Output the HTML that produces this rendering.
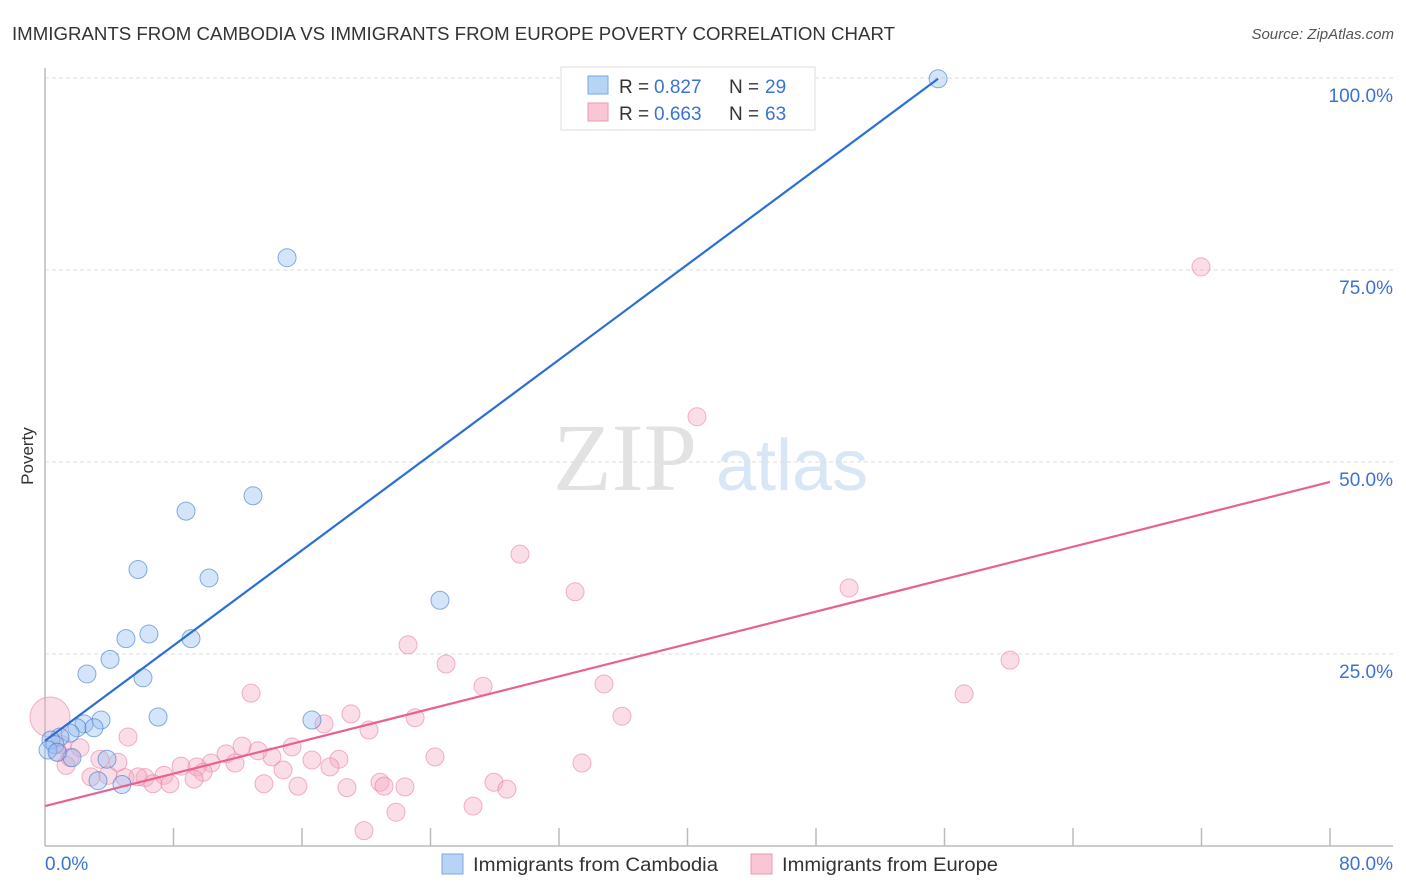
<!DOCTYPE html>
<html><head><meta charset="utf-8"><style>
body{margin:0;background:#fff;font-family:"Liberation Sans",sans-serif}
svg{display:block}
</style></head><body>
<svg id="chart" width="1406" height="892" xmlns="http://www.w3.org/2000/svg">
<text x="12" y="40" font-size="18" fill="#333" textLength="883" lengthAdjust="spacingAndGlyphs">IMMIGRANTS FROM CAMBODIA VS IMMIGRANTS FROM EUROPE POVERTY CORRELATION CHART</text>
<text x="1394" y="39" font-size="15" fill="#555" font-style="italic" text-anchor="end">Source: ZipAtlas.com</text>
<g>
<text x="553" y="490" font-size="96" font-family="Liberation Serif,serif" fill="#e2e2e2">ZIP</text>
<text x="716" y="490" font-size="72" fill="#d8e6f6">atlas</text>
</g>
<g id="grid"></g>
<g id="axes">
<line x1="45" y1="68" x2="45" y2="846" stroke="#bbb" stroke-width="1.5"/>
<line x1="45" y1="846" x2="1393" y2="846" stroke="#bbb" stroke-width="1.5"/>
</g>
<text x="33" y="456" font-size="17" fill="#333" text-anchor="middle" transform="rotate(-90 33 456)">Poverty</text>
<text x="45" y="870" font-size="19" fill="#3a74d0">0.0%</text>
<text x="1393" y="870" font-size="19" fill="#3a74d0" text-anchor="end">80.0%</text>
<g id="marks"></g>
<g>
<rect x="561" y="67" width="254" height="63" fill="#fff" stroke="#ddd"/>
<rect x="588" y="76" width="20" height="18" fill="#b8d4f4" stroke="#7aa8e0"/>
<rect x="588" y="103" width="20" height="18" fill="#f9c6d5" stroke="#ec9ab5"/>
<text y="93" font-size="19" fill="#333"><tspan x="619">R = </tspan><tspan x="654" fill="#3a74d0">0.827</tspan><tspan x="729">N = </tspan><tspan x="765" fill="#3a74d0">29</tspan></text>
<text y="120" font-size="19" fill="#333"><tspan x="619">R = </tspan><tspan x="654" fill="#3a74d0">0.663</tspan><tspan x="729">N = </tspan><tspan x="765" fill="#3a74d0">63</tspan></text>
</g>
<g>
<rect x="442" y="854" width="21" height="20" fill="#b8d4f4" stroke="#7aa8e0"/>
<text x="473" y="871" font-size="19" fill="#333" textLength="245" lengthAdjust="spacingAndGlyphs">Immigrants from Cambodia</text>
<rect x="751" y="854" width="21" height="20" fill="#f9c6d5" stroke="#ec9ab5"/>
<text x="782" y="871" font-size="19" fill="#333" textLength="216" lengthAdjust="spacingAndGlyphs">Immigrants from Europe</text>
</g>
</svg>
<script>
const yTicks=[25,50,75,100];
const yTickLabels=["25.0%","50.0%","75.0%","100.0%"];
const xTicks=[0,8,16,24,32,40,48,56,64,72,80];
const blueX=[55.6,15.07,12.95,8.78,5.79,10.21,24.59,6.47,5.04,9.09,4.05,2.61,6.10,7.04,3.49,2.43,16.62,1.99,3.05,1.56,0.93,0.37,0.62,0.19,3.86,1.68,3.30,4.79,0.75];
const blueY=[99.9,76.6,45.6,43.6,36.0,34.9,32.0,27.6,27.0,27.0,24.3,22.4,21.9,16.8,16.4,15.9,16.4,15.4,15.4,14.7,14.2,13.8,13.2,12.5,11.3,11.5,8.5,8.0,12.2];
const pinkX=[0.31,71.97,40.59,29.57,50.06,33.0,22.6,60.08,24.97,12.83,34.8,27.27,57.22,35.92,5.17,19.05,17.37,20.17,23.04,15.38,24.28,33.43,12.27,11.27,14.13,10.34,8.47,9.46,11.83,18.30,16.62,17.74,14.82,13.26,9.84,3.42,1.56,2.18,1.06,3.92,4.98,6.23,7.41,5.79,6.72,7.78,9.28,2.86,20.86,21.11,22.41,27.95,28.76,18.80,13.63,15.75,26.65,21.85,19.86,0.81,1.31,4.54];
const pinkY=[16.8,75.4,55.9,38.0,33.6,33.1,26.2,24.2,23.7,19.9,21.1,20.8,19.8,16.9,14.2,17.2,15.9,15.1,16.7,12.9,11.6,10.8,13.0,12.0,11.6,10.8,10.4,10.3,10.8,11.3,11.2,10.3,9.9,12.4,9.6,11.3,11.5,12.8,13.2,9.2,8.9,8.9,9.2,9.0,8.1,8.1,8.7,9.0,8.3,7.8,7.7,8.3,7.4,7.6,8.1,7.8,5.2,4.4,2.0,12.2,10.5,10.9];
const blueTrend=[0,13.7,55.6,99.9];
const pinkTrend=[0,5.2,80,47.4];

const NS="http://www.w3.org/2000/svg";
const xS=v=>45+v/80*1285;
const yS=v=>846-v*7.68;
function mk(tag,attrs,parent){const e=document.createElementNS(NS,tag);for(const k in attrs)e.setAttribute(k,attrs[k]);parent.appendChild(e);return e;}
const grid=document.getElementById('grid'),axes=document.getElementById('axes'),marks=document.getElementById('marks');
yTicks.forEach((t,i)=>{
 const l=mk('line',{x1:45,x2:1393,y1:yS(t),y2:yS(t),stroke:'#ddd','stroke-dasharray':'4 3'},grid);
 
 
 const tx=mk('text',{x:1393,y:yS(t)+24,'font-size':19,fill:'#3a74d0','text-anchor':'end'},grid);
 tx.textContent=yTickLabels[i];
 
 
});
xTicks.forEach(t=>{
 if(t===0)return;
 const l=mk('line',{x1:xS(t),x2:xS(t),y1:828,y2:846,stroke:'#bbb','stroke-width':1.5},axes);
 
 
});
pinkX.forEach((x,i)=>{
 const c=mk('circle',{cx:xS(x),cy:yS(pinkY[i]),r:i===0?20:9,fill:'rgba(246,170,195,0.4)',stroke:'rgba(230,130,165,0.6)','stroke-width':1},marks);
 
 
});
blueX.forEach((x,i)=>{
 const c=mk('circle',{cx:xS(x),cy:yS(blueY[i]),r:9,fill:'rgba(150,190,240,0.4)',stroke:'rgba(60,120,210,0.6)','stroke-width':1},marks);
 
 
});
const bl=mk('line',{x1:xS(blueTrend[0]),y1:yS(blueTrend[1]),x2:xS(blueTrend[2]),y2:yS(blueTrend[3]),stroke:'#2a6fd6','stroke-width':2.2},marks);


const pl=mk('line',{x1:xS(pinkTrend[0]),y1:yS(pinkTrend[1]),x2:xS(pinkTrend[2]),y2:yS(pinkTrend[3]),stroke:'#e8628f','stroke-width':2.2},marks);


</script>
</body></html>
